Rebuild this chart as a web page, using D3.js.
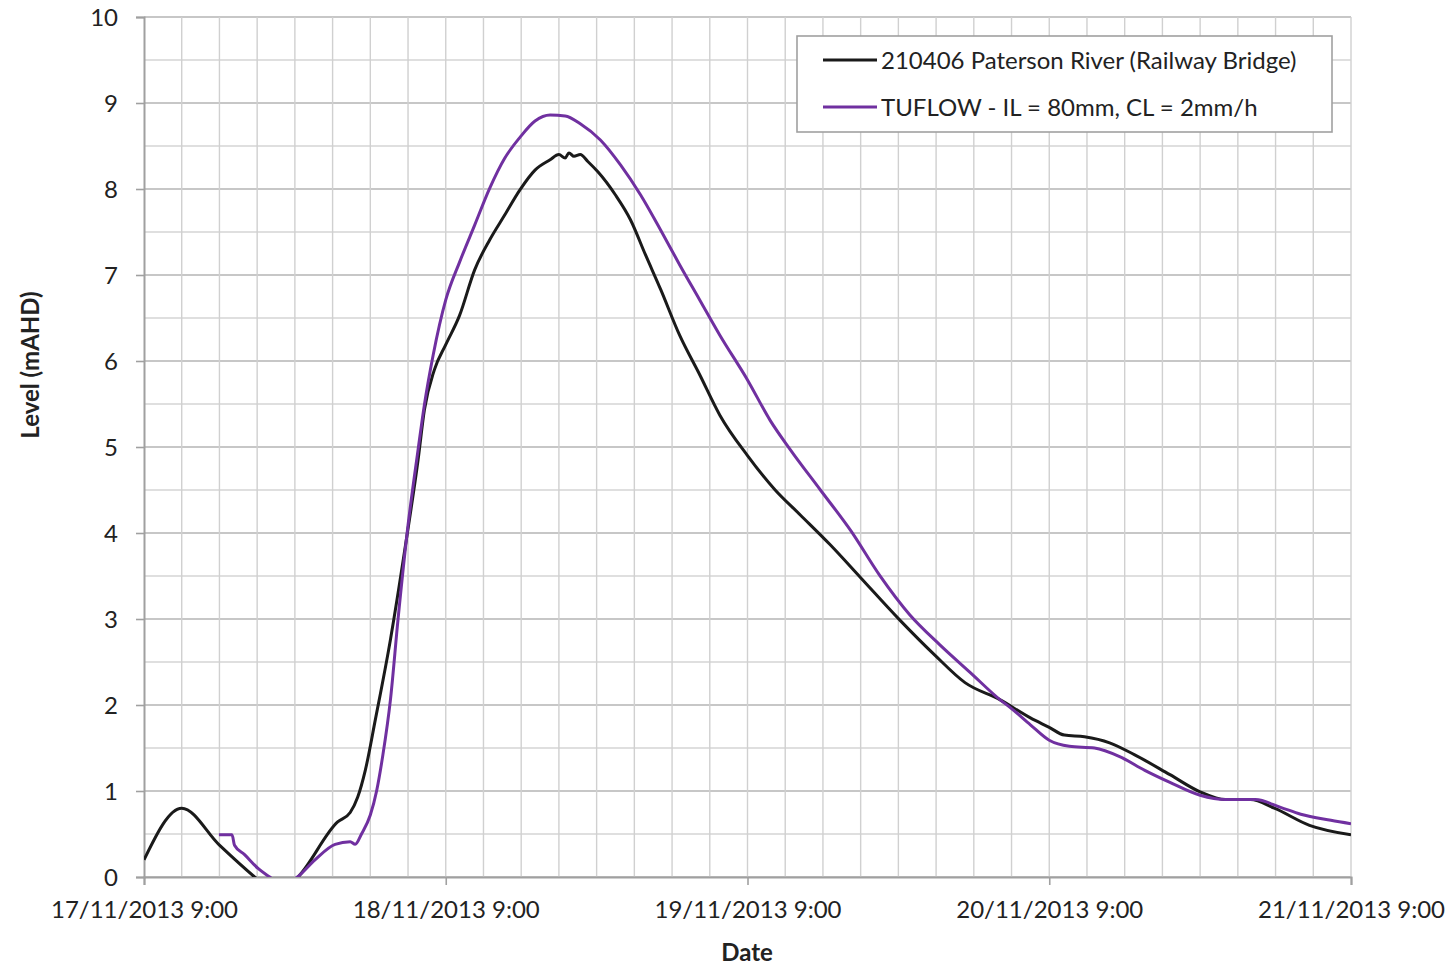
<!DOCTYPE html>
<html><head><meta charset="utf-8">
<script src="https://cdn.jsdelivr.net/npm/d3@7"></script>
<style>body{margin:0;background:#fff}svg{display:block}text{font-family:Lato,"Open Sans",sans-serif;fill:#222}</style>
</head><body><svg id="c" width="1447" height="967"></svg>
<script>
// hours after 17/11/2013 9:00
const observedHours = [0,3,6,8.8,10.5,12.25,15.4,16.4,17,17.6,18.4,19.6,20.8,21.8,22.3,23.1,24,25.1,26.3,27.5,28.7,29.9,31.1,32.3,33.0,33.5,33.8,34.2,34.7,35.3,36.1,37.5,38.7,39.9,41.1,42.6,44.2,45.8,48,50.2,52.2,54.6,57,60.1,62.9,65.3,68.1,70.5,72,73.2,74.8,76.8,78.8,81.6,84,86,88,89.9,92.7,96];
const observedLevel = [0.2,0.8,0.37,0,-0.2,0,0.64,0.75,0.93,1.24,1.83,2.76,3.86,4.85,5.43,5.9,6.19,6.53,7.06,7.41,7.7,7.99,8.22,8.34,8.4,8.36,8.42,8.38,8.4,8.32,8.2,7.93,7.64,7.23,6.83,6.3,5.84,5.37,4.9,4.5,4.21,3.86,3.48,2.99,2.58,2.26,2.06,1.85,1.74,1.65,1.63,1.56,1.42,1.19,0.99,0.9,0.9,0.8,0.6,0.49];
const modelHours = [5.96,7,7.2,8,9.07,10,11,12.2,13.6,15.2,16.4,16.8,17.3,18,18.5,19,19.6,20.2,21,21.8,22.3,23,24,25.1,26.3,27.5,28.7,29.9,31.1,32.3,33.5,34.7,36.3,37.9,39.5,41.1,42.6,44.2,45.8,48,49.8,51.4,53.8,56.2,58.5,60.9,63.3,65.7,68.1,68.9,70.5,72,73.6,75.6,77.6,79.6,81.6,84,86,88.4,90.4,92,94.4,96];
const modelLevel = [0.49,0.49,0.37,0.26,0.1,0,-0.1,0,0.2,0.38,0.41,0.38,0.5,0.72,1.0,1.42,2.06,2.99,4.09,4.97,5.49,6.07,6.71,7.15,7.58,8.01,8.36,8.6,8.79,8.86,8.85,8.76,8.57,8.28,7.93,7.52,7.12,6.71,6.3,5.78,5.31,4.97,4.5,4.03,3.51,3.05,2.7,2.38,2.06,1.97,1.77,1.59,1.52,1.5,1.4,1.24,1.1,0.95,0.9,0.9,0.81,0.73,0.66,0.62];
const xTickLabels = ["17/11/2013 9:00","18/11/2013 9:00","19/11/2013 9:00","20/11/2013 9:00","21/11/2013 9:00"];
const yTicks = [0,1,2,3,4,5,6,7,8,9,10];
const seriesNames = ["210406 Paterson River (Railway Bridge)","TUFLOW - IL = 80mm, CL = 2mm/h"];

const svg = d3.select("#c");
const L=144,R=1351,T=17,B=877;
const x = d3.scaleLinear().domain([0,96]).range([L,R]);
const y = d3.scaleLinear().domain([0,10]).range([B,T]);

// grid
const g = svg.append("g");
d3.range(0,10.01,0.5).forEach(v=>{
  const major = Math.abs(v-Math.round(v))<1e-6;
  g.append("line").attr("x1",L).attr("x2",R).attr("y1",y(v)).attr("y2",y(v))
   .attr("stroke",major?"#b4b4b4":"#d4d4d4").attr("stroke-width",major?1.6:1.4);
});
d3.range(3,96.01,3).forEach(h=>{
  g.append("line").attr("x1",x(h)).attr("x2",x(h)).attr("y1",T).attr("y2",B)
   .attr("stroke","#d0d0d0").attr("stroke-width",1.4);
});

// axes
const yAxis = d3.axisLeft(y).tickValues(yTicks).tickSize(8).tickFormat(d3.format("d"));
const ya = svg.append("g").attr("transform",`translate(${L},0)`).call(yAxis);
ya.select(".domain").attr("stroke","#a0a0a0").attr("stroke-width",2);
ya.selectAll(".tick line").attr("stroke","#a0a0a0").attr("stroke-width",1.6);
ya.selectAll(".tick text").attr("x",-26).attr("dy","0.36em").style("font-size","24px").attr("fill","#222");

const xAxis = d3.axisBottom(x).tickValues([0,24,48,72,96]).tickSize(8).tickFormat((d,i)=>xTickLabels[i]);
const xa = svg.append("g").attr("transform",`translate(0,${B})`).call(xAxis);
xa.select(".domain").attr("stroke","#a0a0a0").attr("stroke-width",2);
xa.selectAll(".tick line").attr("stroke","#a0a0a0").attr("stroke-width",1.6);
xa.selectAll(".tick text").attr("y",24).attr("dy","0.71em").style("font-size","24px").attr("fill","#222");

// clip
svg.append("clipPath").attr("id","clip").append("rect").attr("x",L).attr("y",T).attr("width",R-L).attr("height",B-T);

const line = d3.line().x(d=>x(d[0])).y(d=>y(d[1])).curve(d3.curveMonotoneX);
const plot = svg.append("g").attr("clip-path","url(#clip)");
plot.append("path").datum(d3.zip(observedHours,observedLevel)).attr("d",line)
  .attr("fill","none").attr("stroke","#1a1a1a").attr("stroke-width",3);
plot.append("path").datum(d3.zip(modelHours,modelLevel)).attr("d",line)
  .attr("fill","none").attr("stroke","#7030a0").attr("stroke-width",3);

// legend
const lg = svg.append("g");
lg.append("rect").attr("x",797).attr("y",36).attr("width",535).attr("height",96)
  .attr("fill","#fff").attr("stroke","#a0a0a0").attr("stroke-width",1.6);
const cols=["#1a1a1a","#7030a0"];
seriesNames.forEach((n,i)=>{
  const yy = 60+i*47;
  lg.append("line").attr("x1",823).attr("x2",877).attr("y1",yy).attr("y2",yy).attr("stroke",cols[i]).attr("stroke-width",3);
  lg.append("text").attr("x",881).attr("y",yy).attr("dy","0.36em").style("font-size","24px").text(n);
});

// titles
svg.append("text").attr("x",747).attr("y",961).attr("text-anchor","middle").style("font-size","24px").style("font-weight","bold").text("Date");
svg.append("text").attr("transform","translate(39,365) rotate(-90)").attr("text-anchor","middle").style("font-size","24px").style("font-weight","bold").text("Level (mAHD)");
</script></body></html>
